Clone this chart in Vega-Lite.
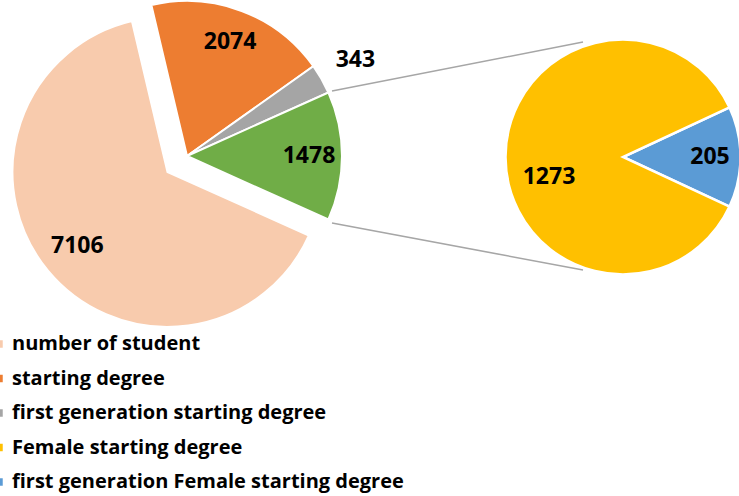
{
  "$schema": "https://vega.github.io/schema/vega-lite/v6.json",
  "width": 739,
  "height": 496,
  "autosize": "none",
  "padding": 0,
  "background": "white",
  "config": {"view": {"stroke": null}},
  "datasets": {
    "main": [
      {"pie": "main", "category": "starting degree", "value": 2074, "ord": 1},
      {"pie": "main", "category": "first generation starting degree", "value": 343, "ord": 2},
      {"pie": "main", "category": "Other", "value": 1478, "ord": 3},
      {"pie": "main", "category": "number of student", "value": 7106, "ord": 4}
    ],
    "second": [
      {"pie": "second", "category": "first generation Female starting degree", "value": 205, "ord": 1},
      {"pie": "second", "category": "Female starting degree", "value": 1273, "ord": 2}
    ]
  },
  "resolve": {"scale": {"theta": "independent"}},
  "layer": [
    {
      "data": {"name": "main"},
      "mark": {"type": "arc", "outerRadius": 155, "stroke": "white", "strokeWidth": 2},
      "encoding": {
        "x": {"field": "pie", "type": "nominal", "scale": {"type": "point", "domain": ["main", "second"], "range": [187, 623], "padding": 0}, "axis": null},
        "y": {"field": "pie", "type": "nominal", "scale": {"type": "point", "domain": ["main", "second"], "range": [156, 157], "padding": 0}, "axis": null},
        "theta": {"field": "value", "type": "quantitative", "stack": true, "scale": {"range": [-0.23173, 6.05146]}},
        "order": {"field": "ord", "type": "quantitative"},
        "color": {
          "field": "category", "type": "nominal",
          "scale": {
            "domain": ["number of student", "starting degree", "first generation starting degree", "Female starting degree", "first generation Female starting degree", "Other"],
            "range": ["#F8CBAD", "#ED7D31", "#A5A5A5", "#FFC000", "#5B9BD5", "#70AD47"]
          },
          "legend": {
            "values": ["number of student", "starting degree", "first generation starting degree", "Female starting degree", "first generation Female starting degree"],
            "orient": "none", "legendX": -11, "legendY": 334, "title": null, "padding": 0,
            "symbolType": "square", "symbolSize": 56, "symbolStrokeWidth": 0, "symbolOpacity": 1,
            "labelFont": "Open Sans", "labelFontSize": 20, "labelFontWeight": "bold", "labelColor": "black",
            "labelOffset": 3, "rowPadding": 14.5, "labelLimit": 600
          }
        },
        "opacity": {"condition": {"test": "datum.category === 'number of student'", "value": 0}, "value": 1}
      }
    },
    {
      "data": {"name": "main"},
      "mark": {"type": "arc", "outerRadius": 155, "stroke": "white", "strokeWidth": 2, "xOffset": -19.5, "yOffset": 16},
      "encoding": {
        "x": {"field": "pie", "type": "nominal"},
        "y": {"field": "pie", "type": "nominal"},
        "theta": {"field": "value", "type": "quantitative", "stack": true, "scale": {"range": [-0.23173, 6.05146]}},
        "order": {"field": "ord", "type": "quantitative"},
        "color": {"field": "category", "type": "nominal"},
        "opacity": {"condition": {"test": "datum.category === 'number of student'", "value": 1}, "value": 0}
      }
    },
    {
      "data": {"name": "second"},
      "mark": {"type": "arc", "outerRadius": 117.5, "stroke": "white", "strokeWidth": 2.5},
      "encoding": {
        "x": {"field": "pie", "type": "nominal"},
        "y": {"field": "pie", "type": "nominal"},
        "theta": {"field": "value", "type": "quantitative", "stack": true, "scale": {"range": [1.13506, 7.41825]}},
        "order": {"field": "ord", "type": "quantitative"},
        "color": {"field": "category", "type": "nominal"}
      }
    },
    {
      "data": {"values": [{}]},
      "mark": {"type": "rule", "color": "#A6A6A6", "strokeWidth": 1.5, "xOffset": 145, "yOffset": -65, "x2Offset": -40, "y2Offset": -115},
      "encoding": {"x": {"datum": "main"}, "x2": {"datum": "second"}, "y": {"datum": "main"}, "y2": {"datum": "second"}}
    },
    {
      "data": {"values": [{}]},
      "mark": {"type": "rule", "color": "#A6A6A6", "strokeWidth": 1.5, "xOffset": 145, "yOffset": 67, "x2Offset": -40, "y2Offset": 113},
      "encoding": {"x": {"datum": "main"}, "x2": {"datum": "second"}, "y": {"datum": "main"}, "y2": {"datum": "second"}}
    },
    {
      "data": {"name": "main"},
      "mark": {"type": "text", "radius": 122, "font": "Open Sans", "fontSize": 23, "fontWeight": "bold", "color": "black"},
      "encoding": {
        "x": {"field": "pie", "type": "nominal"},
        "y": {"field": "pie", "type": "nominal"},
        "theta": {"field": "value", "type": "quantitative", "stack": true, "scale": {"range": [-0.23173, 6.05146]}},
        "order": {"field": "ord", "type": "quantitative"},
        "text": {"field": "value", "type": "quantitative", "format": "d"},
        "opacity": {"condition": {"test": "datum.category === 'starting degree' || datum.category === 'Other'", "value": 1}, "value": 0}
      }
    },
    {
      "data": {"name": "main"},
      "mark": {"type": "text", "radius": 194, "font": "Open Sans", "fontSize": 23, "fontWeight": "bold", "color": "black"},
      "encoding": {
        "x": {"field": "pie", "type": "nominal"},
        "y": {"field": "pie", "type": "nominal"},
        "theta": {"field": "value", "type": "quantitative", "stack": true, "scale": {"range": [-0.23173, 6.05146]}},
        "order": {"field": "ord", "type": "quantitative"},
        "text": {"field": "value", "type": "quantitative", "format": "d"},
        "opacity": {"condition": {"test": "datum.category === 'first generation starting degree'", "value": 1}, "value": 0}
      }
    },
    {
      "data": {"name": "main"},
      "mark": {"type": "text", "radius": 117, "xOffset": -19.5, "yOffset": 16, "font": "Open Sans", "fontSize": 23, "fontWeight": "bold", "color": "black"},
      "encoding": {
        "x": {"field": "pie", "type": "nominal"},
        "y": {"field": "pie", "type": "nominal"},
        "theta": {"field": "value", "type": "quantitative", "stack": true, "scale": {"range": [-0.23173, 6.05146]}},
        "order": {"field": "ord", "type": "quantitative"},
        "text": {"field": "value", "type": "quantitative", "format": "d"},
        "opacity": {"condition": {"test": "datum.category === 'number of student'", "value": 1}, "value": 0}
      }
    },
    {
      "data": {"name": "second"},
      "mark": {"type": "text", "radius": 87, "font": "Open Sans", "fontSize": 23, "fontWeight": "bold", "color": "black"},
      "encoding": {
        "x": {"field": "pie", "type": "nominal"},
        "y": {"field": "pie", "type": "nominal"},
        "theta": {"field": "value", "type": "quantitative", "stack": true, "scale": {"range": [1.13506, 7.41825]}},
        "order": {"field": "ord", "type": "quantitative"},
        "text": {"field": "value", "type": "quantitative", "format": "d"},
        "opacity": {"condition": {"test": "datum.category === 'first generation Female starting degree'", "value": 1}, "value": 0}
      }
    },
    {
      "data": {"name": "second"},
      "mark": {"type": "text", "radius": 74, "yOffset": 20, "font": "Open Sans", "fontSize": 23, "fontWeight": "bold", "color": "black"},
      "encoding": {
        "x": {"field": "pie", "type": "nominal"},
        "y": {"field": "pie", "type": "nominal"},
        "theta": {"field": "value", "type": "quantitative", "stack": true, "scale": {"range": [1.13506, 7.41825]}},
        "order": {"field": "ord", "type": "quantitative"},
        "text": {"field": "value", "type": "quantitative", "format": "d"},
        "opacity": {"condition": {"test": "datum.category === 'Female starting degree'", "value": 1}, "value": 0}
      }
    }
  ]
}
